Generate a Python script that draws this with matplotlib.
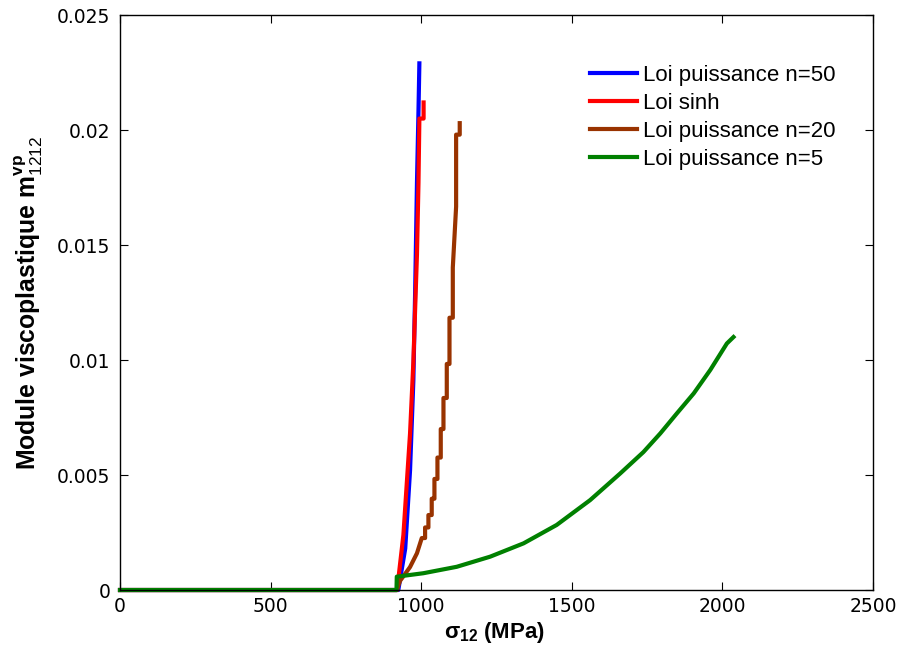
import numpy as np
import matplotlib
matplotlib.use("Agg")
from matplotlib import pyplot as plt

plt.rcParams['font.family'] = ['Liberation Sans', 'DejaVu Sans']
plt.rcParams['mathtext.fontset'] = 'custom'
plt.rcParams['mathtext.rm'] = 'Liberation Sans'
plt.rcParams['mathtext.bf'] = 'Liberation Sans:bold'
plt.rcParams['mathtext.it'] = 'Liberation Sans:italic'

# Loi puissance n=50
x_n50 = [0, 924, 947, 963, 974, 980, 986, 991, 994]
y_n50 = [0, 0, 0.0018, 0.0052, 0.0091, 0.0130, 0.0177, 0.0208, 0.0229]

# Loi sinh
x_sinh = [0, 920, 941, 963, 974, 986, 991, 994, 1008, 1008]
y_sinh = [0, 0, 0.0024, 0.0068, 0.0099, 0.0146, 0.0177, 0.0205, 0.0205, 0.0212]

# Loi puissance n=20 (marches)
x_n20 = [0, 919, 930, 963, 986, 1002, 1002, 1013, 1013, 1024, 1024, 1035, 1035,
         1044, 1044, 1054, 1054, 1065, 1065, 1074, 1074, 1085, 1085, 1094, 1094,
         1105, 1105, 1116, 1116, 1128, 1128]
y_n20 = [0, 0, 0.0004, 0.0010, 0.0016, 0.00226, 0.00226, 0.00226, 0.00272,
         0.00272, 0.00326, 0.00326, 0.00397, 0.00397, 0.00483, 0.00483, 0.00576,
         0.00576, 0.0070, 0.0070, 0.00835, 0.00835, 0.00983, 0.00983, 0.01184,
         0.01184, 0.01402, 0.01667, 0.0198, 0.0198, 0.0203]

# Loi puissance n=5
x_n5 = [0, 918, 919, 1007, 1118, 1229, 1340, 1450, 1561, 1661, 1738, 1794, 1849,
        1905, 1960, 2015, 2037]
y_n5 = [0, 0, 0.00058, 0.00073, 0.00101, 0.00145, 0.00203, 0.00283, 0.00391,
        0.00507, 0.00600, 0.00681, 0.00768, 0.00855, 0.00957, 0.01072, 0.0110]

xticks = [0, 500, 1000, 1500, 2000, 2500]
yticks = [0, 0.005, 0.01, 0.015, 0.02, 0.025]
ytick_labels = ['0', '0.005', '0.01', '0.015', '0.02', '0.025']

fig = plt.figure(figsize=(8.99, 6.55), dpi=100)
ax = fig.add_axes([0.1335, 0.0992, 0.8375, 0.8778])

lw = 3.0
ax.plot(x_n50, y_n50, color='#0000ff', lw=lw, label='Loi puissance n=50', clip_on=False)
ax.plot(x_sinh, y_sinh, color='#ff0000', lw=lw, label='Loi sinh', clip_on=False)
ax.plot(x_n20, y_n20, color='#993300', lw=lw, label='Loi puissance n=20', clip_on=False)
ax.plot(x_n5, y_n5, color='#008000', lw=lw, label='Loi puissance n=5', clip_on=False)

ax.set_xlim(0, 2500)
ax.set_ylim(0, 0.025)
ax.set_xticks(xticks)
ax.set_yticks(yticks)
ax.set_yticklabels(ytick_labels)
ax.tick_params(direction='in', top=True, right=True, length=6, width=0.8)
ax.tick_params(axis='x', pad=5)
ax.tick_params(axis='y', pad=7)
for lab in ax.get_xticklabels() + ax.get_yticklabels():
    lab.set_fontfamily('DejaVu Sans')
    lab.set_fontsize(13.5)
for s in ax.spines.values():
    s.set_linewidth(1.0)

ax.set_xlabel(r'$\mathbf{\sigma}_{\mathbf{12}}$ (MPa)', fontsize=16, fontweight='bold')
ax.xaxis.set_label_coords(0.497, -0.052)
ax.set_ylabel(r'Module viscoplastique $\mathbf{m}^{\mathbf{vp}}_{\mathrm{1212}}$', fontsize=17.8,
              fontweight='bold')
ax.yaxis.set_label_coords(-0.1, 0.5)

leg = ax.legend(loc='upper left', bbox_to_anchor=(0.624, 0.913), frameon=False,
                fontsize=16, handlelength=2.1, handletextpad=0.27, labelspacing=0.31,
                borderpad=0, borderaxespad=0)

fig.savefig('out.png', dpi=100)
